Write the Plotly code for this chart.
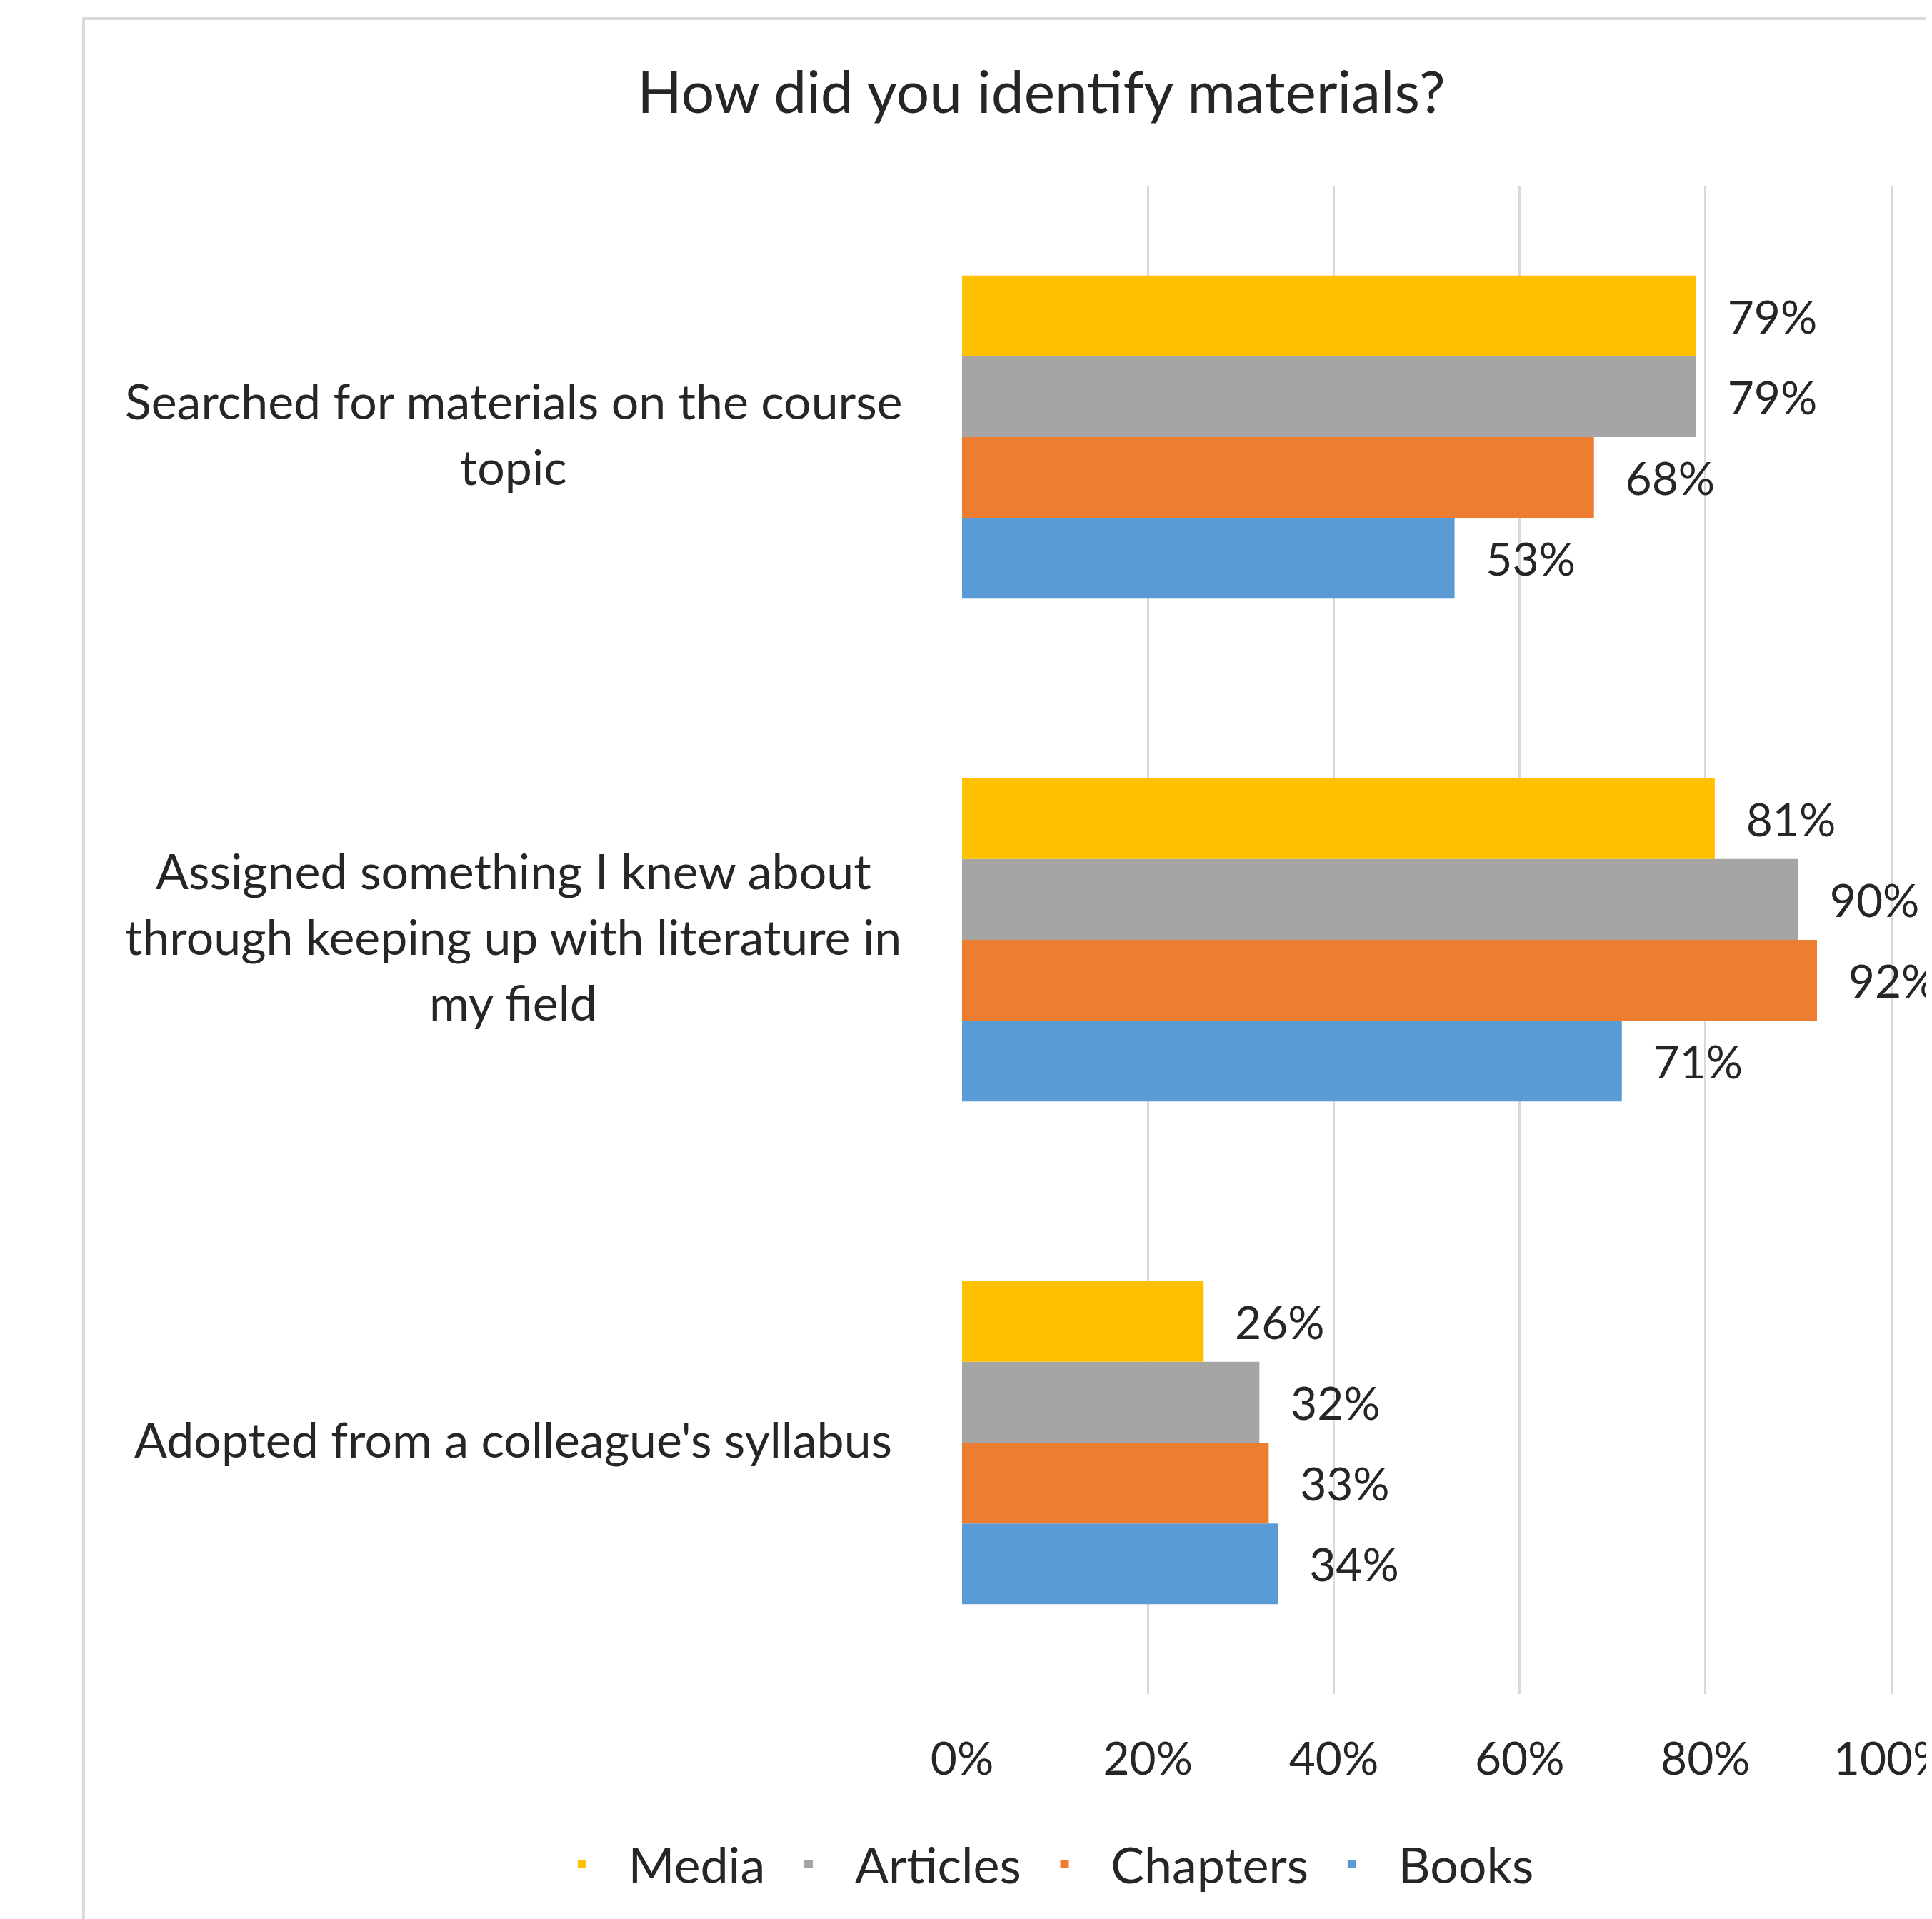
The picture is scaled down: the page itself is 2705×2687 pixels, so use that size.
import plotly.graph_objects as go

categories = ["Adopted from a colleague's syllabus",
              "Assigned something I knew about through keeping up with literature in my field",
              "Searched for materials on the course topic"]
category_lines = {
    "Searched for materials on the course topic": ["Searched for materials on the course", "topic"],
    "Assigned something I knew about through keeping up with literature in my field":
        ["Assigned something I knew about", "through keeping up with literature in", "my field"],
    "Adopted from a colleague's syllabus": ["Adopted from a colleague's syllabus"],
}
series_names = ["Books", "Chapters", "Articles", "Media"]
books = [34, 71, 53]
chapters = [33, 92, 68]
articles = [32, 90, 79]
media = [26, 81, 79]
series_values = [books, chapters, articles, media]
colors = ["#5B9BD5", "#ED7D31", "#A5A5A5", "#FFC000"]
x_ticks = [0, 20, 40, 60, 80, 100]
x_ticklabels = ["0%", "20%", "40%", "60%", "80%", "100%"]

FONT = "Lato, 'Open Sans', sans-serif"
OFF = 8  # body margin of the page
SW, SH = 2705, 2687
W, H = SW - OFF, SH - OFF
X0, X100 = 1347, 2648          # screen px of 0% and 100%
YT, YB = 260, 2372             # screen px of plot top / bottom
XMAX = 100.3
plot_right = X0 + (X100 - X0) * XMAX / 100
L = X0 - OFF
R = SW - plot_right
T = YT - OFF
B = SH - YB
pw = plot_right - X0
ph = YB - YT


def px_x(sx):
    return (sx - X0) / pw


def px_y(sy):
    return (YB - sy) / ph


fig = go.Figure()
for name, vals, col in zip(series_names, series_values, colors):
    fig.add_trace(go.Bar(
        y=categories, x=vals, name="\u00a0\u00a0\u2009" + name + "\u00a0\u00a0",
        orientation="h",
        marker=dict(color=col, line=dict(width=0)),
        text=[f"\u00a0\u00a0\u2009{v}%" for v in vals],
        textposition="outside", cliponaxis=False, constraintext="none",
        textfont=dict(family=FONT, size=64, color="#262626"),
    ))

annotations = []
LS = 92
for cat in categories:
    lines = category_lines[cat]
    n = len(lines)
    for i, line in enumerate(lines):
        annotations.append(dict(
            text=line, x=px_x(719), xref="paper", y=cat, yref="y",
            xanchor="center", yanchor="middle", showarrow=False,
            yshift=((n - 1) / 2 - i) * LS + 6,
            font=dict(family=FONT, size=68, color="#262626"),
        ))

fig.update_layout(
    width=W, height=H,
    margin=dict(l=L, r=R, t=T, b=B, autoexpand=False),
    paper_bgcolor="white", plot_bgcolor="white",
    barmode="group", bargap=0.357, bargroupgap=0,
    title=dict(text="How did you identify materials?", x=(1458 - OFF) / W, xref="container",
               xanchor="center", y=1 - (129 - OFF) / H, yref="container", yanchor="middle",
               font=dict(family=FONT, size=82, color="#262626")),
    xaxis=dict(range=[0, XMAX], tickvals=x_ticks, ticktext=x_ticklabels,
               showgrid=True, gridcolor="#D9D9D9", gridwidth=3,
               zeroline=False, showline=False, ticks="",
               ticklabelstandoff=48, ticklabeloverflow="allow",
               tickfont=dict(family=FONT, size=64, color="#262626")),
    yaxis=dict(categoryorder="array", categoryarray=categories,
               showticklabels=False, showgrid=False, zeroline=False, showline=False),
    legend=dict(orientation="h", x=px_x(795), xanchor="left",
                y=px_y(2610), yanchor="middle", traceorder="reversed",
                font=dict(family=FONT, size=70, color="#262626"),
                itemwidth=30, bgcolor="rgba(0,0,0,0)"),
    annotations=annotations,
    shapes=[dict(type="rect", xref="paper", yref="paper",
                 x0=px_x(117), x1=1.2, y0=-0.3, y1=px_y(26),
                 line=dict(color="#D9D9D9", width=4), fillcolor="rgba(0,0,0,0)",
                 layer="below")],
    showlegend=True,
)

fig.write_html("out.html")
